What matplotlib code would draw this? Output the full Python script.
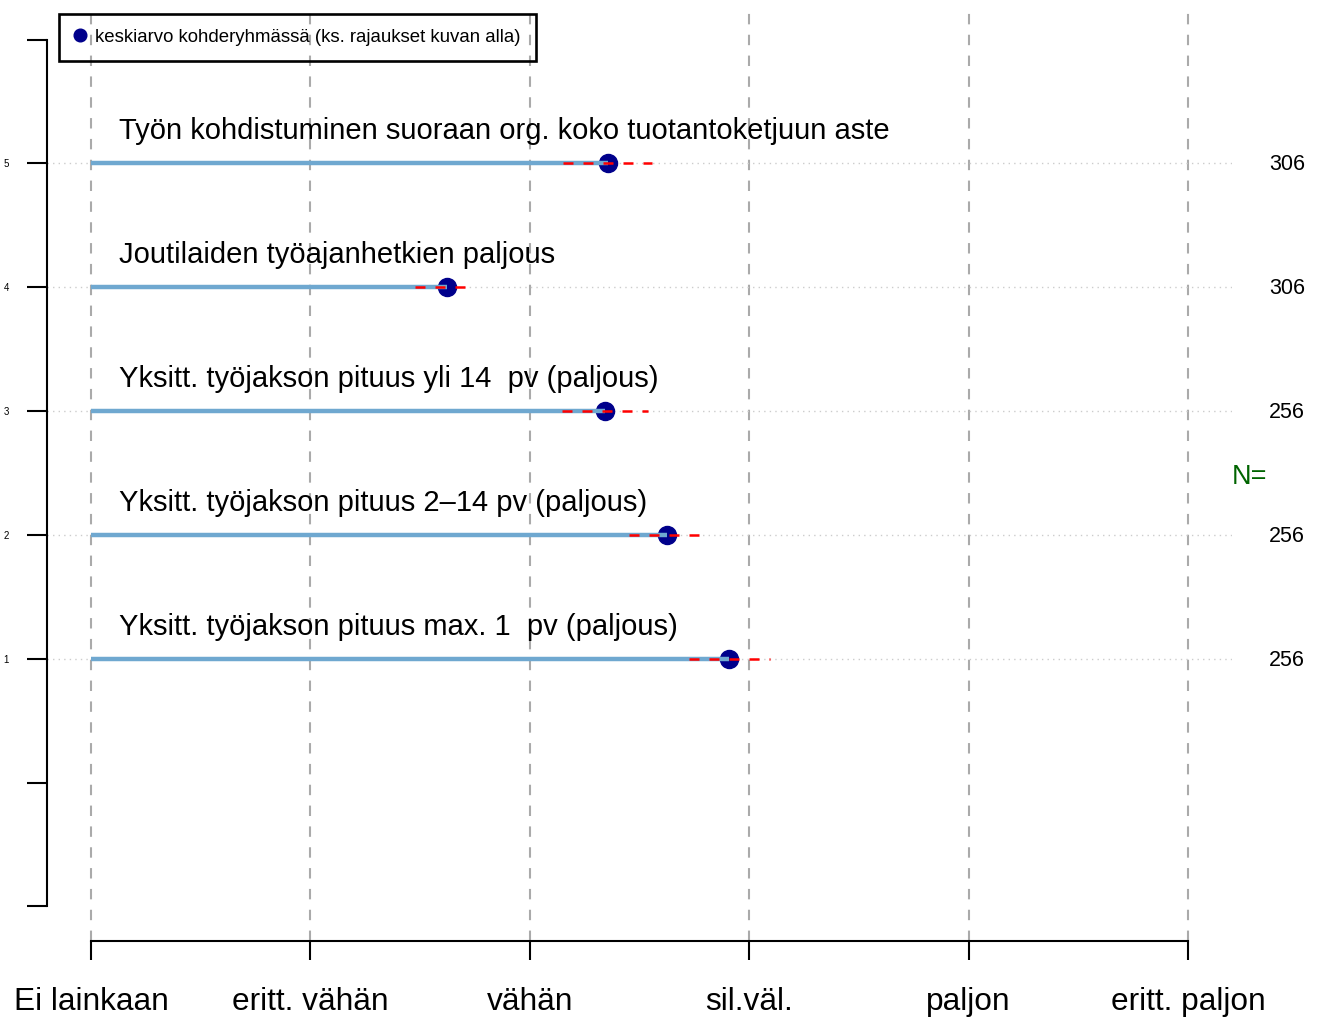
import numpy as np
import matplotlib.pyplot as plt

plt.rcParams['font.family'] = ['Liberation Sans', 'DejaVu Sans']

# items from bottom (y=1) to top (y=5)
items = [
    "Yksitt. työjakson pituus max. 1  pv (paljous)",
    "Yksitt. työjakson pituus 2\u201314 pv (paljous)",
    "Yksitt. työjakson pituus yli 14  pv (paljous)",
    "Joutilaiden työajanhetkien paljous",
    "Työn kohdistuminen suoraan org. koko tuotantoketjuun aste",
]
means = [3.91, 3.625, 3.345, 2.625, 3.357]
ci_low = [3.726, 3.454, 3.149, 2.477, 3.151]
ci_high = [4.095, 3.78, 3.54, 2.73, 3.555]
n_obs = [256, 256, 256, 306, 306]
scale_labels = ["Ei lainkaan", "eritt. vähän", "vähän", "sil.väl.", "paljon", "eritt. paljon"]
legend_label = "keskiarvo kohderyhmässä (ks. rajaukset kuvan alla)"

fig = plt.figure(figsize=(13.24, 10.17), dpi=100)
ax = fig.add_axes([47/1324, 76/1017, (1232-47)/1324, (941-5)/1017])
ax.set_xlim(0.8, 6.2)
ax.set_ylim(-1.28, 6.28)

ys = np.arange(1, len(items) + 1)

# grid
for xv in range(1, 7):
    ax.axvline(xv, color='#aaaaaa', lw=1.5, ls=(0, (5, 5)), zorder=1)
for y in ys:
    ax.axhline(y, color='#cccccc', lw=1, ls=(0, (1, 3)), zorder=1)

h = None
for y, m, lo, hi, lab in zip(ys, means, ci_low, ci_high, items):
    h, = ax.plot([m], [y], 'o', color='#00008b', ms=13, zorder=3)
    ax.plot([1, m], [y, y], color='#6fa8d0', lw=3.2, zorder=4, solid_capstyle='butt')
    ax.plot([lo, hi], [y, y], color='red', lw=1.8, ls=(0, (4, 4)), zorder=5)
    ax.text(1.128, y + 0.26, lab, fontsize=21, va='center', ha='left', zorder=6)

for y, n in zip(ys, n_obs):
    ax.text(1.0 + (1305 - 91) / 219.4, y - 0.012, str(n), fontsize=15.5, ha='right',
            va='center', clip_on=False)
ax.text(6.28, 2.47, "N=", fontsize=19.5, color='#006400', ha='center', va='center',
        clip_on=False)

# axes
for s in ['top', 'right']:
    ax.spines[s].set_visible(False)
ax.spines['left'].set_bounds(-1, 6)
ax.spines['bottom'].set_bounds(1, 6)
ax.spines['left'].set_linewidth(1.5)
ax.spines['bottom'].set_linewidth(1.5)

ax.set_xticks(range(1, 7))
ax.set_xticklabels(scale_labels, fontsize=22.8)
ax.set_yticks(range(-1, 7))
ax.set_yticklabels(['', '', '1', '2', '3', '4', '5', ''], fontsize=7)
ax.tick_params(axis='x', length=13.5, width=1.5, pad=19.5)
ax.tick_params(axis='y', length=14.5, width=1.5, pad=13)

leg = ax.legend([h], [legend_label], loc='upper left', bbox_to_anchor=(12/1185, 1 - 9/936),
                fontsize=13.4, frameon=True, fancybox=False, handletextpad=0.45,
                borderpad=0.8, handlelength=0.7, markerscale=0.7, borderaxespad=0,
                framealpha=1, facecolor='none', edgecolor='black')
leg.get_frame().set_linewidth(1.9)

fig.savefig('out.png', dpi=100)
